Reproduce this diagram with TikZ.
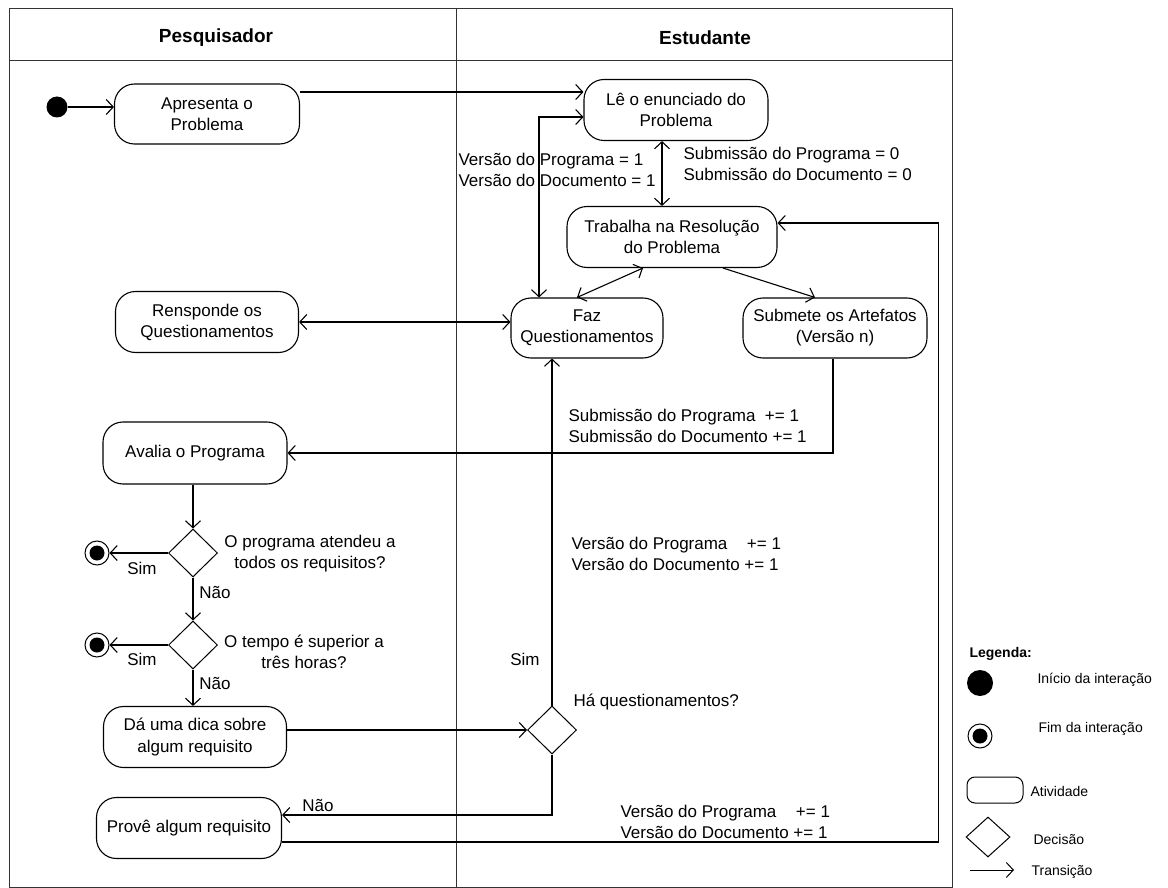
\documentclass[tikz,border=0pt]{standalone}
\usepackage{fontspec}
\setmainfont{Liberation Sans}
\usetikzlibrary{arrows.meta,shapes.geometric,calc}
\begin{document}
\begin{tikzpicture}[x=1pt,y=-1pt,line width=1.1pt,
  every node/.style={font=\fontsize{17}{21}\selectfont},
  act/.style={draw, rounded corners=20pt, align=center, inner sep=0pt},
  dec/.style={draw, diamond, inner sep=0pt, minimum width=49pt, minimum height=48pt, line width=1pt},
  fim/.style={draw, circle, inner sep=0pt, minimum size=24pt, line width=1pt,
     path picture={\fill (path picture bounding box.center) circle (7.5pt);}},
  ini/.style={circle, fill, inner sep=0pt, minimum size=21pt},
  arr/.style={-{Straight Barb[length=7pt,width=15pt]}},
  arrboth/.style={{Straight Barb[length=7pt,width=15pt]}-{Straight Barb[length=7pt,width=15pt]}},
  lbl/.style={anchor=west, align=left, inner sep=0pt},
  clbl/.style={align=center, inner sep=0pt},
  leg/.style={anchor=west, inner sep=0pt, font=\fontsize{14}{17}\selectfont},
  hdr/.style={font=\bfseries\fontsize{19}{23}\selectfont}
]
\fill[white] (0,0) rectangle (1168,888);
\useasboundingbox (0,0) rectangle (1168,888);

% swimlane frame
\draw[line width=1pt, black!80] (9,9) rectangle (952,887);
\draw[line width=1pt, black!80] (9,61) -- (952,61);
\draw[line width=1pt, black!80] (456,9) -- (456,887);
\node[hdr] (hp) at (216,38) {Pesquisador};
\node[hdr] (he) at (705,38) {Estudante};

% nodes
\node[ini] (start) at (57,107) {};
\node[act, minimum width=185pt, minimum height=60pt] (apr) at (207,114) {Apresenta o\\Problema};
\node[act, minimum width=184pt, minimum height=61pt] (le) at (676,110) {Lê o enunciado do\\Problema};
\node[act, minimum width=210pt, minimum height=61pt] (trab) at (672,237) {Trabalha na Resolução\\do Problema};
\node[act, minimum width=152pt, minimum height=60pt] (faz) at (587,328) {Faz\\Questionamentos};
\node[act, minimum width=184pt, minimum height=60pt] (sub) at (835,328) {Submete os Artefatos\\(Versão n)};
\node[act, minimum width=183pt, minimum height=61pt] (resp) at (207,322) {Rensponde os\\Questionamentos};
\node[act, minimum width=184pt, minimum height=62pt] (aval) at (195,453) {Avalia o Programa};
\node[dec] (d1) at (193,553) {};
\node[fim] (e1) at (97,553) {};
\node[dec] (d2) at (193,645) {};
\node[fim] (e2) at (97,645) {};
\node[act, minimum width=183pt, minimum height=61pt] (dica) at (195,737) {Dá uma dica sobre\\algum requisito};
\node[act, minimum width=185pt, minimum height=61pt] (prove) at (189,828) {Provê algum requisito};
\node[dec] (d3) at (552,730) {};

% connectors
\draw[arr] (start) -- (start -| apr.west);
\coordinate (a1) at ([yshift=18pt]le.west);
\draw[arr] (apr.east |- a1) -- (a1);
\coordinate (a2) at ([yshift=-7pt]le.west);
\draw[arrboth] ([xshift=-48pt]faz.north) |- (a2);
\draw[arrboth] ([xshift=-14pt]le.south) -- ([xshift=-14pt]le.south |- trab.north);
\draw[arrboth] ([xshift=-29pt]trab.south) -- ([xshift=-10pt]faz.north);
\draw[arr] ([xshift=51pt]trab.south) -- ([xshift=-20pt]sub.north);
\draw[arrboth] (resp.east) -- (resp.east -| faz.west);
\draw[arr] ([xshift=-2pt]sub.south) |- (aval.east);
\draw[arr] (d1.north |- aval.south) -- (d1.north);
\draw[arr] (d1.west) -- (e1.east);
\draw[arr] (d1.south) -- (d2.north);
\draw[arr] (d2.west) -- (e2.east);
\draw[arr] (d2.south) -- (d2.south |- dica.north);
\draw[arr] (dica.east |- d3.west) -- (d3.west);
\draw[arr] (d3.north) -- (d3.north |- faz.south);
\draw[arr] (d3.south) |- ([yshift=13pt]prove.east);
\coordinate (c1) at ([yshift=14pt]trab.east);
\coordinate (rt) at ([xshift=161pt]trab.east);
\draw[arr] ([yshift=-14pt]prove.east) -| (rt |- c1) -- (c1);

% labels
\node[lbl] (l1) at (458,170) {Versão do Programa = 1\\Versão do Documento = 1};
\node[lbl] (l2) at (683,164) {Submissão do Programa = 0\\Submissão do Documento = 0};
\node[lbl] (l3) at (568,426) {Submissão do Programa\hspace{0.55em}+= 1\\Submissão do Documento += 1};
\node[lbl] (l4) at (571,554) {Versão do Programa\hspace{1.15em}+= 1\\Versão do Documento += 1};
\node[lbl] (l5) at (620,822) {Versão do Programa\hspace{1.15em}+= 1\\Versão do Documento += 1};
\node[lbl] (l6) at (573,702) {Há questionamentos?};
\node[clbl] (q1) at (310,554) {O programa atendeu a\\todos os requisitos?};
\node[clbl] (q2) at (304,652) {O tempo é superior a\\três horas?};
\node[clbl] (s1) at (142,568) {Sim};
\node[clbl] (s2) at (142,659) {Sim};
\node[clbl] (n1) at (215,592) {Não};
\node[clbl] (n2) at (215,683) {Não};
\node[clbl] (n3) at (318,805) {Não};
\node[clbl] (s3) at (525,659) {Sim};

% legend
\node[leg, font=\bfseries\fontsize{14}{17}\selectfont] (lg) at (969,654) {Legenda:};
\node[ini, minimum size=26pt] (lgi) at (980,683) {};
\node[leg] (lgit) at (1037,680) {Início da interação};
\node[fim] (lgf) at (980,736) {};
\node[leg] (lgft) at (1038,729) {Fim da interação};
\node[draw, rounded corners=8pt, minimum width=56pt, minimum height=26pt, inner sep=0pt, line width=1pt] (lga) at (995,790) {};
\node[leg] (lgat) at (1030,791) {Atividade};
\node[draw, diamond, inner sep=0pt, minimum width=44pt, minimum height=40pt, line width=1pt] (lgd) at (988,837) {};
\node[leg] (lgdt) at (1033,839) {Decisão};
\coordinate (lgt0) at (970,870);
\coordinate (lgt1) at (1014,870);
\draw[arr, line width=1pt] (lgt0) -- (lgt1);
\node[leg] (lgtt) at (1031,872) {Transição};
\end{tikzpicture}
\end{document}
